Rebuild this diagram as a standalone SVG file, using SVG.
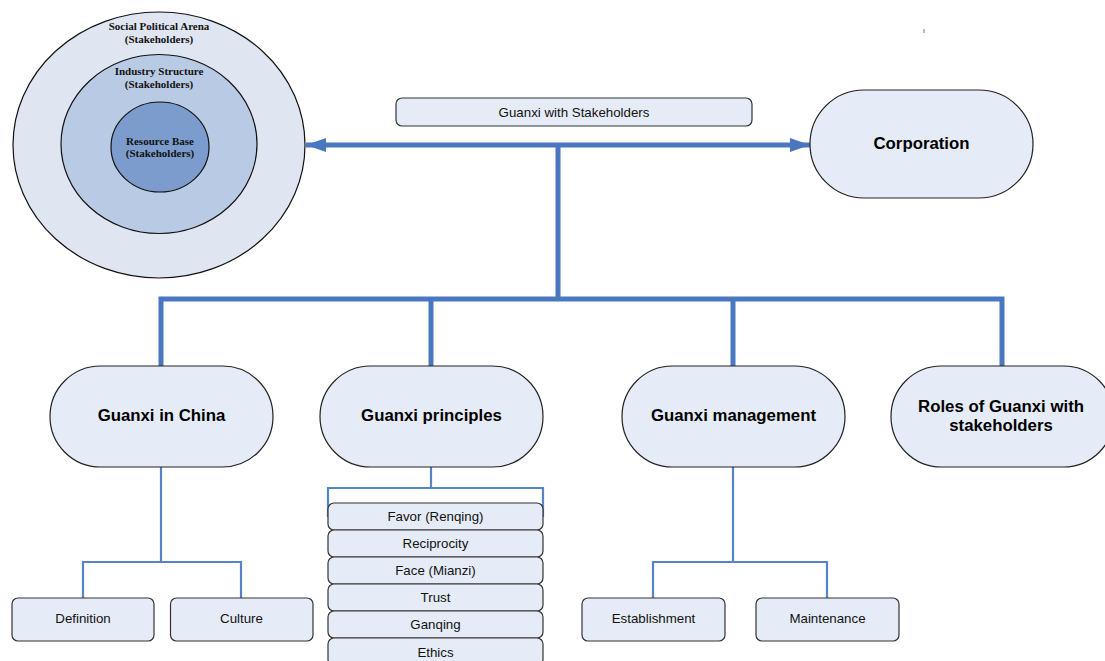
<svg xmlns="http://www.w3.org/2000/svg" width="1105" height="661" viewBox="0 0 1105 661">
<defs>
<style>
.box{fill:#e6ecf7;stroke:#333;stroke-width:1.2}
.stad{fill:#e6ecf7;stroke:#222;stroke-width:1.2}
.ring{stroke:#111;stroke-width:1.2}
.thick{stroke:#4a78c0;stroke-width:5;fill:none}
.thin{stroke:#5585c8;stroke-width:2.2;fill:none}
.ser{font-family:"Liberation Serif","Times New Roman",serif;font-weight:bold;font-size:11px;fill:#111;text-anchor:middle}
.big{font-family:"Liberation Sans",Arial,sans-serif;font-weight:bold;font-size:16.8px;fill:#000;text-anchor:middle}
.sm{font-family:"Liberation Sans",Arial,sans-serif;font-size:13.3px;fill:#111;text-anchor:middle}
</style>
<marker id="ah" markerUnits="userSpaceOnUse" markerWidth="22" markerHeight="16" refX="20" refY="8" orient="auto-start-reverse" viewBox="0 0 22 16">
<path d="M0,1 L20,8 L0,15 Z" fill="#4a78c0"/>
</marker>
</defs>

<g id="arena">
<ellipse class="ring" cx="159" cy="145" rx="146" ry="133" fill="#dfe6f1"/>
<text class="ser" x="159" y="29.5">Social Political Arena</text>
<text class="ser" x="159" y="42.5">(Stakeholders)</text>
</g>
<g id="industry">
<ellipse class="ring" cx="159" cy="144" rx="98" ry="89.5" fill="#b9cbe4"/>
<text class="ser" x="159" y="75">Industry Structure</text>
<text class="ser" x="159" y="87.5">(Stakeholders)</text>
</g>
<g id="resource">
<ellipse class="ring" cx="160" cy="147" rx="49" ry="45" fill="#7b9ccc"/>
<text class="ser" x="160" y="144.5">Resource Base</text>
<text class="ser" x="160" y="157">(Stakeholders)</text>
</g>

<g id="connectors">
<line class="thick" x1="306" y1="145" x2="810" y2="145" marker-start="url(#ah)" marker-end="url(#ah)"/>
<line class="thick" x1="558" y1="145" x2="558" y2="299"/>
<path class="thick" d="M161,366 V299 H1002 V366"/>
<line class="thick" x1="431" y1="299" x2="431" y2="366"/>
<line class="thick" x1="733" y1="299" x2="733" y2="366"/>
<path class="thin" d="M161,467 V562"/>
<path class="thin" d="M83,598 V562 H241 V598"/>
<path class="thin" d="M733,467 V562"/>
<path class="thin" d="M653,598 V562 H827 V598"/>
<path class="thin" d="M431,467 V488"/>
<path class="thin" d="M328,517 V488 H543 V517"/>
<line x1="924" y1="29" x2="924" y2="33" stroke="#4a78c0" stroke-width="1"/>
</g>

<g id="guanxi-with-stakeholders">
<rect class="box" x="396" y="98" width="356" height="28" rx="6"/>
<text class="sm" x="574" y="116.5">Guanxi with Stakeholders</text>
</g>
<g id="corporation">
<rect class="stad" x="810" y="90" width="223" height="108" rx="54"/>
<text class="big" x="921.5" y="149">Corporation</text>
</g>
<g id="guanxi-in-china">
<rect class="stad" x="50" y="366" width="223" height="101" rx="50.5"/>
<text class="big" x="161.5" y="421">Guanxi in China</text>
</g>
<g id="guanxi-principles">
<rect class="stad" x="320" y="366" width="223" height="101" rx="50.5"/>
<text class="big" x="431.5" y="421">Guanxi principles</text>
</g>
<g id="guanxi-management">
<rect class="stad" x="622" y="366" width="223" height="101" rx="50.5"/>
<text class="big" x="733.5" y="421">Guanxi management</text>
</g>
<g id="roles">
<rect class="stad" x="891" y="366" width="223" height="101" rx="50.5"/>
<text class="big" x="1001" y="412">Roles of Guanxi with</text>
<text class="big" x="1001" y="431">stakeholders</text>
</g>

<g id="definition">
<rect class="box" x="12" y="598" width="142" height="43" rx="6"/>
<text class="sm" x="83" y="623">Definition</text>
</g>
<g id="culture">
<rect class="box" x="170.5" y="598" width="142.5" height="43" rx="6"/>
<text class="sm" x="241.5" y="623">Culture</text>
</g>
<g id="establishment">
<rect class="box" x="582" y="598" width="143" height="43" rx="6"/>
<text class="sm" x="653.5" y="623">Establishment</text>
</g>
<g id="maintenance">
<rect class="box" x="756" y="598" width="143" height="43" rx="6"/>
<text class="sm" x="827.5" y="623">Maintenance</text>
</g>

<g id="favor">
<rect class="box" x="328" y="503" width="215" height="27" rx="6"/>
<text class="sm" x="435.5" y="521">Favor (Renqing)</text>
</g>
<g id="reciprocity">
<rect class="box" x="328" y="530" width="215" height="27" rx="6"/>
<text class="sm" x="435.5" y="548">Reciprocity</text>
</g>
<g id="face">
<rect class="box" x="328" y="557" width="215" height="27" rx="6"/>
<text class="sm" x="435.5" y="575">Face (Mianzi)</text>
</g>
<g id="trust">
<rect class="box" x="328" y="584" width="215" height="27" rx="6"/>
<text class="sm" x="435.5" y="602">Trust</text>
</g>
<g id="ganqing">
<rect class="box" x="328" y="611" width="215" height="27" rx="6"/>
<text class="sm" x="435.5" y="629">Ganqing</text>
</g>
<g id="ethics">
<rect class="box" x="328" y="638" width="215" height="27" rx="6"/>
<text class="sm" x="435.5" y="657">Ethics</text>
</g>
</svg>
